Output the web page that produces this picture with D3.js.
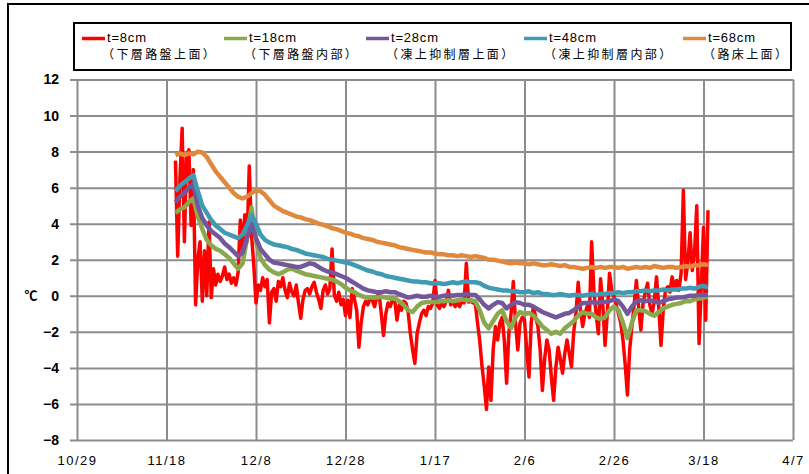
<!DOCTYPE html>
<html>
<head>
<meta charset="utf-8">
<script src="https://d3js.org/d3.v7.min.js"></script>
<style>
  body { margin: 0; background: #fff; }
  svg text { font-family: "Liberation Sans", Arial, sans-serif; }
</style>
</head>
<body>
<script>
var width = 809, height = 474;

// legend / series
var seriesNames = ["t=8cm", "t=18cm", "t=28cm", "t=48cm", "t=68cm"];
var seriesNotes = ["（下層路盤上面）", "（下層路盤内部）", "（凍上抑制層上面）", "（凍上抑制層内部）", "（路床上面）"];
var seriesColors = ["#ff0000", "#8aa84e", "#72589a", "#3f9ab4", "#e0883c"];

// axes
var xTickLabels = ["10/29", "11/18", "12/8", "12/28", "1/17", "2/6", "2/26", "3/18", "4/7"];
var yTicks = [-8, -6, -4, -2, 0, 2, 4, 6, 8, 10, 12];

// first reading: 11/20 ; t=8cm every 12 hours, others daily
var firstDay = "11/20";

var t8 = [
  7.5, 2.2, 6.5, 9.3, 3.0, 7.8, 8.1, 3.9, 7.0, -0.5,
  2.0, 3.0, -0.3, 2.5, 0.0, 4.1, -0.1, 1.5, 0.6, 1.2,
  0.8, 1.1, 1.6, 0.9, 1.2, 0.7, 1.0, 0.6, 1.3, 4.2,
  2.6, 4.5, 3.0, 7.2, 3.4, 1.7, -0.4, 0.6, 0.3, 1.0,
  0.5, 0.9, -1.5, 0.2, 0.4, -0.3, 0.8, 0.5, 1.0, 0.3,
  -0.1, 0.7, 0.2, 0.0, 0.6, -0.4, -1.25, -0.2, 0.3, 0.4,
  0.1, 0.5, 0.75, 0.2, -0.2, -0.7, 0.3, 0.6, 0.1, 0.4,
  2.6, 0.05, -0.3, 0.2, -0.5, -0.2, -1.1, -0.25, -1.2, 0.4,
  -0.2, -0.8, -2.85, -1.5, -0.6, -0.3, -0.5, -0.1, -0.25, -0.6,
  -0.1, 0.15, -1.0, -2.2, -1.0, -0.4, -0.6, -0.2, -0.25, -1.35,
  -0.5, -0.8, -0.3, -0.4, -0.9, -2.1, -3.0, -3.75, -2.1, -1.5,
  -1.0, -0.8, -1.1, -0.6, -0.7, -0.4, 0.85, -0.5, -0.7, -0.4,
  -0.6, -0.3, 0.3, -0.5, -0.3, -0.6, -0.4, -0.6, -0.3, -0.4,
  1.8, -0.35, -0.3, -0.4, -0.4, -1.5, -2.5, -3.9, -5.0, -6.3,
  -3.95, -5.8, -3.0, -1.7, -2.45, -1.5, -1.2, -2.5, -4.85, -2.1,
  -1.0, 0.8, -1.5, -3.0, -1.5, -1.2, -1.35, -3.0, -4.5, -1.5,
  -0.6, -1.2, -1.7, -3.0, -5.25, -3.5, -2.45, -3.0, -4.5, -5.8,
  -4.0, -2.85, -3.5, -4.3, -3.2, -2.45, -3.2, -3.95, -2.0, -1.0,
  0.75, -0.8, -1.7, -1.0, -0.6, -1.2, 3.0, 0.3, -1.0, -2.1,
  0.95, -0.5, -2.75, -1.0, 1.25, 0.3, -0.05, -0.5, -1.0, -1.5,
  -2.45, -3.8, -5.5, -3.0, -1.7, -0.5, 0.85, -0.6, -1.9, -0.4,
  0.2, 0.7, -0.5, -1.0, -0.3, 1.05, -0.6, -2.75, -0.8, 0.3,
  0.5, 0.2, 1.05, 0.4, 0.85, 0.3, 1.25, 5.85, 0.9, 1.8,
  3.5, 1.4, 2.4, 5.0, -2.65, 0.5, 3.8, -1.35, 4.75
];

var t18 = [
  4.6, 4.8, 4.9, 5.2, 5.4, 4.4, 3.7, 3.1, 2.8, 2.6,
  2.5, 2.3, 2.1, 1.8, 1.5, 1.8, 3.2, 4.9, 3.0, 2.1,
  1.7, 1.45, 1.3, 1.2, 1.3, 1.45, 1.5, 1.4, 1.3, 1.2,
  1.15, 1.1, 1.05, 1.0, 0.95, 0.9, 0.8, 0.65, 0.45, 0.3,
  0.2, 0.05, -0.05, -0.1, -0.1, -0.1, -0.05, -0.1, -0.15, -0.15,
  -0.3, -0.5, -0.8, -0.9, -0.6, -0.4, -0.35, -0.35, -0.35, -0.3,
  -0.3, -0.25, -0.3, -0.25, -0.2, -0.25, -0.25, -0.3, -0.8, -1.5,
  -1.8, -1.4, -1.0, -0.8, -1.4, -1.8, -1.2, -0.9, -1.0, -0.95,
  -1.1, -1.4, -1.7, -1.9, -2.1, -2.0, -2.1, -1.8, -1.6, -1.4,
  -1.1, -0.9, -1.0, -1.0, -1.2, -1.3, -1.2, -0.8, -0.6, -0.8,
  -1.5, -2.35, -1.5, -0.8, -0.8, -0.85, -1.0, -1.1, -0.9, -0.7,
  -0.6, -0.5, -0.45, -0.4, -0.3, -0.3, -0.2, -0.15, -0.1, -0.05
];

var t28 = [
  5.2, 5.5, 5.7, 6.0, 6.2, 5.0, 4.3, 3.9, 3.6, 3.4,
  3.2, 2.9, 2.7, 2.45, 2.2, 2.4, 3.2, 4.0, 3.2, 2.6,
  2.3, 2.0, 1.85, 1.8, 1.75, 1.7, 1.65, 1.6, 1.6, 1.7,
  1.8, 1.75, 1.6, 1.45, 1.35, 1.3, 1.2, 1.1, 1.0, 0.85,
  0.7, 0.55, 0.4, 0.3, 0.25, 0.2, 0.2, 0.25, 0.2, 0.2,
  0.1, 0.0, -0.1, -0.05, 0.0, -0.05, -0.05, 0.0, -0.05, -0.05,
  0.0, 0.05, 0.0, 0.05, 0.05, 0.1, 0.05, 0.05, -0.2, -0.5,
  -0.7, -0.5, -0.35, -0.4, -0.7, -0.5, -0.35, -0.4, -0.5, -0.5,
  -0.6, -0.75, -0.9, -1.0, -1.1, -1.2, -1.1, -1.0, -0.95, -0.8,
  -0.6, -0.4, -0.4, -0.35, -0.4, -0.35, -0.35, -0.3, -0.2, -0.3,
  -0.6, -1.0, -0.6, -0.3, -0.25, -0.3, -0.25, -0.3, -0.4, -0.3,
  -0.2, -0.15, -0.1, -0.1, -0.05, 0.0, 0.0, 0.05, 0.05, 0.05
];

var t48 = [
  5.8, 6.1, 6.3, 6.5, 6.7, 5.8, 5.0, 4.6, 4.2, 3.9,
  3.7, 3.5, 3.4, 3.3, 3.2, 3.4, 3.9, 4.5, 4.0, 3.4,
  3.1, 2.95, 2.85, 2.8, 2.75, 2.7, 2.6, 2.55, 2.45, 2.35,
  2.3, 2.25, 2.2, 2.15, 2.05, 2.0, 1.95, 1.9, 1.85, 1.8,
  1.7, 1.6, 1.5, 1.4, 1.35, 1.25, 1.2, 1.1, 1.05, 1.0,
  0.95, 0.9, 0.85, 0.8, 0.8, 0.75, 0.75, 0.7, 0.7, 0.7,
  0.65, 0.7, 0.75, 0.7, 0.75, 0.8, 0.75, 0.75, 0.7, 0.55,
  0.45, 0.4, 0.35, 0.3, 0.3, 0.25, 0.25, 0.2, 0.2, 0.25,
  0.15, 0.2, 0.1, 0.1, 0.05, 0.05, 0.1, 0.05, 0.0, 0.05,
  0.05, 0.0, 0.05, 0.1, 0.05, 0.1, 0.1, 0.15, 0.15, 0.2,
  0.15, 0.2, 0.2, 0.25, 0.25, 0.3, 0.25, 0.3, 0.3, 0.35,
  0.3, 0.35, 0.35, 0.4, 0.4, 0.45, 0.4, 0.5, 0.55, 0.45
];

var t68 = [
  7.8, 7.9, 7.8, 7.9, 7.85, 8.0, 7.95, 7.7, 7.3, 6.9,
  6.6, 6.3, 6.0, 5.7, 5.5, 5.4, 5.5, 5.7, 5.85, 5.8,
  5.6, 5.3, 5.0, 4.85, 4.7, 4.6, 4.5, 4.4, 4.35, 4.25,
  4.2, 4.1, 4.0, 3.95, 3.85, 3.75, 3.7, 3.6, 3.5, 3.45,
  3.35, 3.3, 3.2, 3.15, 3.1, 3.0, 2.95, 2.9, 2.85, 2.8,
  2.7, 2.65, 2.6, 2.55, 2.5, 2.45, 2.4, 2.4, 2.35, 2.3,
  2.3, 2.25, 2.25, 2.2, 2.25, 2.2, 2.15, 2.2, 2.15, 2.1,
  2.0, 2.0, 1.95, 1.9, 1.85, 1.8, 1.85, 1.8, 1.8, 1.75,
  1.8, 1.75, 1.7, 1.7, 1.75, 1.7, 1.65, 1.7, 1.6, 1.6,
  1.55, 1.5, 1.55, 1.6, 1.55, 1.6, 1.55, 1.6, 1.6, 1.55,
  1.6, 1.5, 1.55, 1.6, 1.55, 1.6, 1.55, 1.65, 1.6, 1.55,
  1.6, 1.6, 1.55, 1.6, 1.65, 1.6, 1.7, 1.7, 1.75, 1.7
];

function md(s) {
  var p = s.split("/"), m = +p[0];
  return new Date(m >= 10 ? 2012 : 2013, m - 1, +p[1]);
}

var start = md(firstDay);
var series = [
  t8.map(function(v, i) { return { date: d3.timeHour.offset(start, 12 * i), value: v }; }),
  t18.map(function(v, i) { return { date: d3.timeDay.offset(start, i), value: v }; }),
  t28.map(function(v, i) { return { date: d3.timeDay.offset(start, i), value: v }; }),
  t48.map(function(v, i) { return { date: d3.timeDay.offset(start, i), value: v }; }),
  t68.map(function(v, i) { return { date: d3.timeDay.offset(start, i), value: v }; })
];

var svg = d3.select("body").append("svg")
  .attr("width", width).attr("height", height);

// outer frame
svg.append("rect").attr("x", 8).attr("y", 4).attr("width", 900).attr("height", 600)
  .attr("fill", "#fff").attr("stroke", "#000").attr("stroke-width", 2);

var plotL = 77, plotR = 793, plotT = 79.5, plotB = 440;
var x = d3.scaleTime().domain([md(xTickLabels[0]), md(xTickLabels[xTickLabels.length - 1])]).range([plotL, plotR]);
var y = d3.scaleLinear().domain([-8, 12]).range([plotB, plotT]);

var gridColor = "#8c8c8c";

var yAxis = svg.append("g").attr("transform", "translate(" + plotL + ",0)")
  .call(d3.axisLeft(y).tickValues(yTicks).tickSizeInner(-(plotR - plotL)).tickSizeOuter(0).tickPadding(18));
yAxis.select(".domain").remove();
yAxis.selectAll(".tick line").attr("x1", -7).attr("stroke", gridColor).attr("stroke-width", 2);
yAxis.selectAll(".tick text").attr("font-size", 14).attr("font-weight", "bold").attr("fill", "#000")
  .attr("font-family", "Liberation Sans, Arial, sans-serif");

var xAxis = svg.append("g").attr("transform", "translate(0," + plotB + ")")
  .call(d3.axisBottom(x).tickValues(xTickLabels.map(md))
    .tickFormat(function(d, i) { return xTickLabels[i]; })
    .tickSizeInner(-(plotB - plotT)).tickSizeOuter(0).tickPadding(16));
xAxis.select(".domain").remove();
xAxis.selectAll(".tick line").attr("stroke", gridColor).attr("stroke-width", 2);
xAxis.selectAll(".tick text").attr("font-size", 13).attr("fill", "#000")
  .attr("letter-spacing", 1.5).attr("font-family", "Liberation Sans, Arial, sans-serif");

// unit
svg.append("text").attr("x", 31).attr("y", 300).attr("text-anchor", "middle")
  .attr("font-size", 13).attr("font-weight", "bold")
  .style("font-family", "'Noto Sans CJK JP', sans-serif").text("℃");

var line = d3.line()
  .x(function(d) { return x(d.date); })
  .y(function(d) { return y(d.value); });

svg.append("g").selectAll("path").data(series).join("path")
  .attr("d", line)
  .attr("fill", "none")
  .attr("stroke", function(d, i) { return seriesColors[i]; })
  .attr("stroke-width", function(d, i) { return i === 0 ? 3.5 : 4.5; })
  .attr("stroke-linejoin", "round");

// legend
svg.append("rect").attr("x", 74).attr("y", 23).attr("width", 717).attr("height", 47)
  .attr("fill", "#fff").attr("stroke", "#000").attr("stroke-width", 2);
var legendX = [82, 224, 366, 524, 683];
var lg = svg.append("g").selectAll("g").data(seriesNames).join("g")
  .attr("transform", function(d, i) { return "translate(" + legendX[i] + ",0)"; });
lg.append("line").attr("x1", 0).attr("x2", 23).attr("y1", 38.5).attr("y2", 38.5)
  .attr("stroke", function(d, i) { return seriesColors[i]; }).attr("stroke-width", 3.5);
lg.append("text").attr("x", 25).attr("y", 41.5).attr("font-size", 13).attr("letter-spacing", 0.8)
  .text(function(d) { return d; });
lg.append("text").attr("x", 20).attr("y", 58.5).attr("font-size", 12).attr("letter-spacing", 2.4)
  .style("font-family", "'Noto Sans CJK JP', sans-serif")
  .text(function(d, i) { return seriesNotes[i]; });
</script>
</body>
</html>
